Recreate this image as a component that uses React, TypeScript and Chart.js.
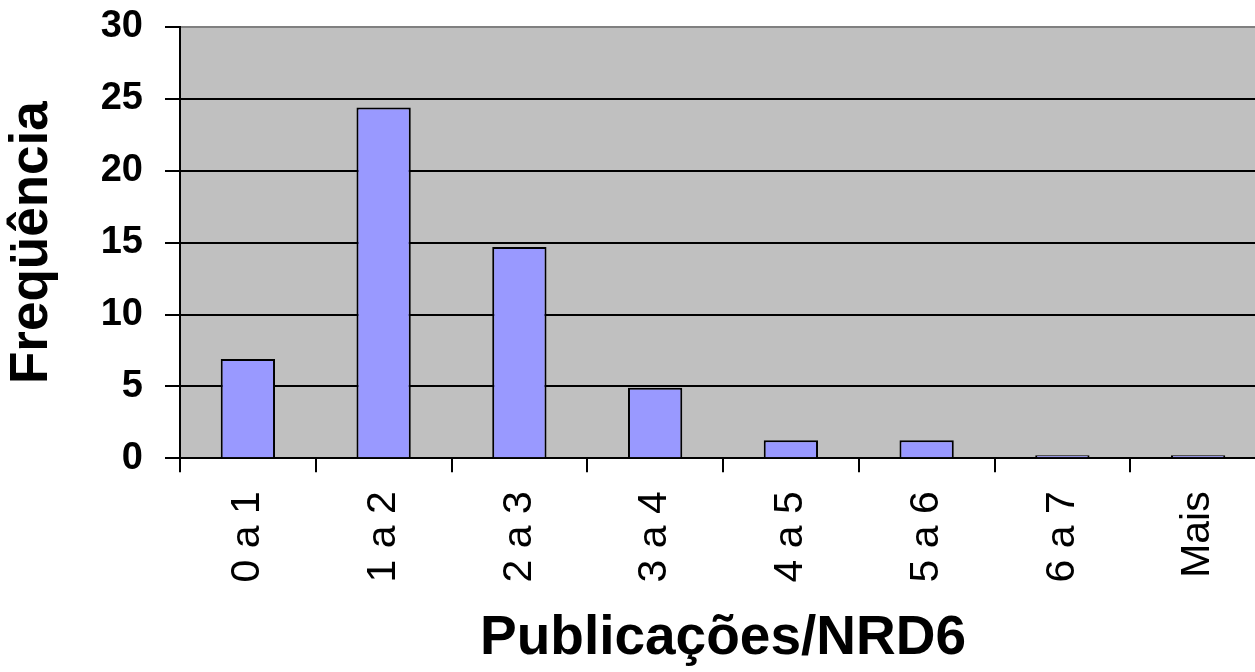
import React, { useEffect, useRef } from "react";
import { Chart, registerables } from "chart.js";

Chart.register(...registerables);

const categories = ["0 a 1", "1 a 2", "2 a 3", "3 a 4", "4 a 5", "5 a 6", "6 a 7", "Mais"];
const frequencies = [6.9, 24.4, 14.7, 4.9, 1.25, 1.25, 0, 0];
const yTicks = [0, 5, 10, 15, 20, 25, 30];

const FONT = "'Liberation Sans', Arial, sans-serif";

export default function App() {
  const canvasRef = useRef<HTMLCanvasElement | null>(null);

  useEffect(() => {
    const canvas = canvasRef.current;
    if (!canvas) return;
    const chart = new Chart(canvas, {
      type: "bar",
      data: {
        labels: categories,
        datasets: [
          {
            label: "Freqüência",
            data: frequencies,
            backgroundColor: "#9999FF",
            borderColor: "#000000",
            borderWidth: 2,
            categoryPercentage: 1,
            barPercentage: 0.4,
            minBarLength: 3,
          },
        ],
      },
      options: {
        responsive: false,
        animation: false,
        layout: { padding: { top: 27, right: 14, left: 0, bottom: 0 } },
        plugins: {
          legend: { display: false },
          tooltip: { enabled: false },
        },
        scales: {
          x: {
            grid: {
              offset: true,
              drawOnChartArea: false,
              drawTicks: true,
              tickLength: 14,
              color: "#000000",
              lineWidth: 2,
            },
            border: { display: true, color: "#000000", width: 2 },
            ticks: {
              autoSkip: false,
              maxRotation: 90,
              minRotation: 90,
              padding: 19,
              color: "#000000",
              font: { family: FONT, size: 41, weight: "normal" },
            },
            title: {
              display: true,
              text: "Publicações/NRD6",
              color: "#000000",
              font: { family: FONT, size: 55, weight: "bold" },
              padding: { top: 0, bottom: 0 },
            },
            afterFit: (scale: any) => {
              scale.height = 213.7;
              scale.paddingLeft = 0;
              scale.paddingRight = 0;
            },
          },
          y: {
            min: 0,
            max: 30,
            afterBuildTicks: (scale: any) => {
              scale.ticks = yTicks.map((v) => ({ value: v }));
            },
            grid: {
              color: (ctx: any) => (ctx.tick && ctx.tick.value === 30 ? "#808080" : "#000000"),
              tickColor: "#000000",
              lineWidth: 2,
              drawTicks: true,
              tickLength: 15,
            },
            border: { display: true, color: "#000000", width: 2 },
            ticks: {
              padding: 22,
              color: "#000000",
              font: { family: FONT, size: 38, weight: "bold" },
            },
            title: {
              display: true,
              text: "Freqüência",
              color: "#000000",
              font: { family: FONT, size: 53, weight: "bold" },
              padding: { top: 1, bottom: 0 },
            },
            afterFit: (scale: any) => {
              scale.width = 180;
              scale.paddingTop = 0;
              scale.paddingBottom = 0;
            },
          },
        },
      },
      plugins: [
        {
          id: "plotBackground",
          beforeDraw: (c: any) => {
            const { ctx, chartArea } = c;
            ctx.save();
            ctx.fillStyle = "#C0C0C0";
            ctx.fillRect(
              chartArea.left,
              chartArea.top,
              chartArea.right - chartArea.left,
              chartArea.bottom - chartArea.top
            );
            ctx.restore();
          },
        },
      ],
    });
    return () => chart.destroy();
  }, []);

  return (
    <div
      style={{
        position: "absolute",
        left: 0,
        top: 0,
        width: 1255,
        height: 672,
        overflow: "hidden",
        background: "#ffffff",
      }}
    >
      <canvas ref={canvasRef} width={1280} height={672} style={{ display: "block" }} />
    </div>
  );
}
